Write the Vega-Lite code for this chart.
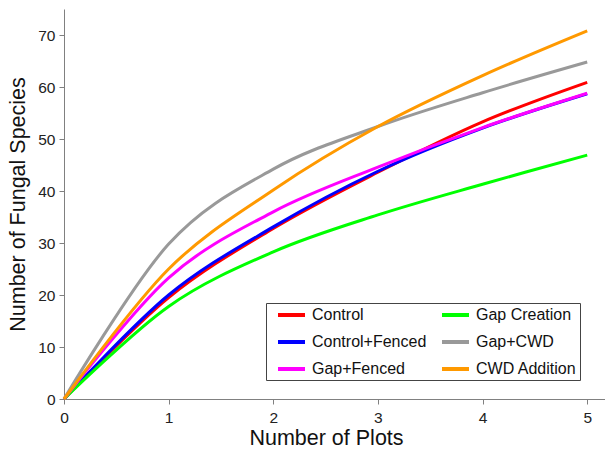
{
  "$schema": "https://vega.github.io/schema/vega-lite/v6.json",
  "autosize": "none",
  "width": 541,
  "height": 390,
  "padding": {"left": 64, "top": 9, "right": 0, "bottom": 54},
  "background": "white",
  "config": {"view": {"stroke": null}, "font": "Liberation Sans"},
  "data": {"values": [
    {"series": "Control", "plots": 0, "species": 0},
    {"series": "Control", "plots": 1, "species": 19.5},
    {"series": "Control", "plots": 2, "species": 32.8},
    {"series": "Control", "plots": 3, "species": 43.6},
    {"series": "Control", "plots": 4, "species": 53.3},
    {"series": "Control", "plots": 5, "species": 60.9},
    {"series": "Control+Fenced", "plots": 0, "species": 0},
    {"series": "Control+Fenced", "plots": 1, "species": 20},
    {"series": "Control+Fenced", "plots": 2, "species": 33.1},
    {"series": "Control+Fenced", "plots": 3, "species": 43.8},
    {"series": "Control+Fenced", "plots": 4, "species": 52.1},
    {"series": "Control+Fenced", "plots": 5, "species": 58.7},
    {"series": "Gap Creation", "plots": 0, "species": 0},
    {"series": "Gap Creation", "plots": 1, "species": 17.8},
    {"series": "Gap Creation", "plots": 2, "species": 28.3},
    {"series": "Gap Creation", "plots": 3, "species": 35.4},
    {"series": "Gap Creation", "plots": 4, "species": 41.3},
    {"series": "Gap Creation", "plots": 5, "species": 46.9},
    {"series": "Gap+Fenced", "plots": 0, "species": 0},
    {"series": "Gap+Fenced", "plots": 1, "species": 23.3},
    {"series": "Gap+Fenced", "plots": 2, "species": 36.0},
    {"series": "Gap+Fenced", "plots": 3, "species": 44.6},
    {"series": "Gap+Fenced", "plots": 4, "species": 52.2},
    {"series": "Gap+Fenced", "plots": 5, "species": 58.8},
    {"series": "Gap+CWD", "plots": 0, "species": 0},
    {"series": "Gap+CWD", "plots": 1, "species": 29.8},
    {"series": "Gap+CWD", "plots": 2, "species": 44.2},
    {"series": "Gap+CWD", "plots": 3, "species": 52.4},
    {"series": "Gap+CWD", "plots": 4, "species": 58.9},
    {"series": "Gap+CWD", "plots": 5, "species": 64.8},
    {"series": "CWD Addition", "plots": 0, "species": 0},
    {"series": "CWD Addition", "plots": 1, "species": 25},
    {"series": "CWD Addition", "plots": 2, "species": 40.2},
    {"series": "CWD Addition", "plots": 3, "species": 52.4},
    {"series": "CWD Addition", "plots": 4, "species": 62.2},
    {"series": "CWD Addition", "plots": 5, "species": 70.8}
  ]},
  "mark": {"type": "line", "interpolate": "cardinal", "strokeWidth": 3},
  "encoding": {
    "x": {
      "field": "plots", "type": "quantitative",
      "scale": {"domain": [0, 5.17], "nice": false, "zero": false},
      "axis": {
        "title": "Number of Plots", "values": [0, 1, 2, 3, 4, 5], "grid": false,
        "domainColor": "#808080", "tickColor": "#808080", "tickSize": 5,
        "labelFontSize": 15.5, "labelColor": "#222", "labelPadding": 6,
        "titleFontSize": 21.5, "titleFontWeight": "normal", "titleColor": "#111",
        "titleX": 262, "titlePadding": 2, "labelFlush": false
      }
    },
    "y": {
      "field": "species", "type": "quantitative",
      "scale": {"domain": [0, 75], "nice": false},
      "axis": {
        "title": "Number of Fungal Species", "values": [0, 10, 20, 30, 40, 50, 60, 70], "grid": false,
        "domainColor": "#808080", "tickColor": "#808080", "tickSize": 5,
        "labelFontSize": 15.5, "labelColor": "#222", "labelPadding": 4,
        "titleFontSize": 21.5, "titleFontWeight": "normal", "titleColor": "#111",
        "titlePadding": 8, "labelFlush": false
      }
    },
    "color": {
      "field": "series", "type": "nominal",
      "scale": {
        "domain": ["Control", "Control+Fenced", "Gap+Fenced", "Gap Creation", "Gap+CWD", "CWD Addition"],
        "range": ["#FF0000", "#0000FF", "#FF00FF", "#00FF00", "#999999", "#FF9900"]
      },
      "legend": {
        "title": null, "orient": "none", "legendX": 202, "legendY": 294,
        "columns": 2, "columnPadding": 6, "rowPadding": 10,
        "symbolType": "M0,0H3.857", "symbolSize": 196, "symbolStrokeWidth": 4,
        "labelFontSize": 16, "labelColor": "#111", "labelOffset": 25,
        "padding": 3, "strokeColor": "#444", "fillColor": "white"
      }
    }
  }
}
